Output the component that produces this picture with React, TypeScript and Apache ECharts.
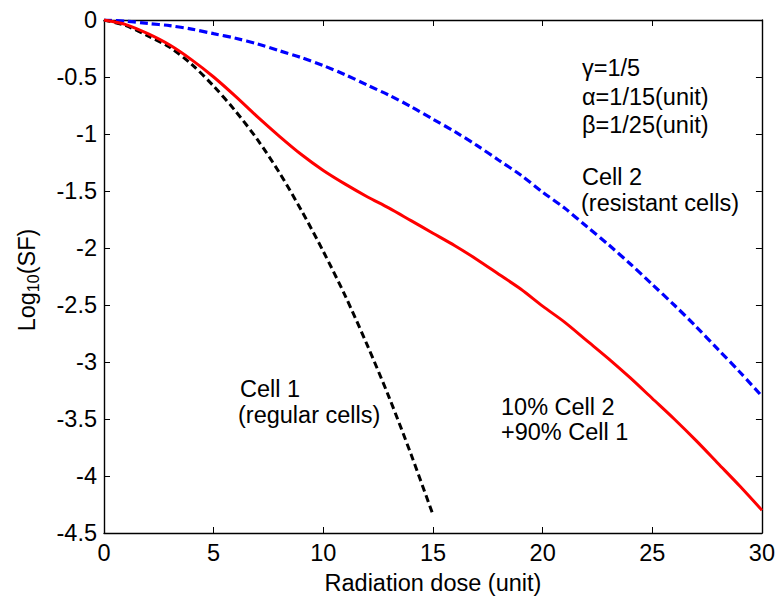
import React, { useEffect, useRef } from "react";
import * as echarts from "echarts";

// Radiation dose (unit)
const doses: number[] = [0, 1, 2, 3, 4, 5, 6, 7, 8, 9, 10, 11, 12, 13, 14, 15, 16, 17, 18, 19, 20, 21, 22, 23, 24, 25, 26, 27, 28, 29, 30];
const cell1Doses: number[] = [0, 1, 2, 3, 4, 5, 6, 7, 8, 9, 10, 11, 12, 13, 14, 15];

// Log10(SF)
const cell1Values: number[] = [0, -0.05, -0.14, -0.24, -0.39, -0.58, -0.8, -1.05, -1.34, -1.67, -2.03, -2.42, -2.85, -3.31, -3.81, -4.34];
const cell2Values: number[] = [0, -0.01, -0.03, -0.05, -0.08, -0.12, -0.16, -0.21, -0.27, -0.33, -0.4, -0.48, -0.57, -0.66, -0.76, -0.87, -0.98, -1.1, -1.23, -1.36, -1.51, -1.65, -1.81, -1.97, -2.14, -2.32, -2.5, -2.69, -2.89, -3.09, -3.3];
const mixValues: number[] = [0, -0.04, -0.12, -0.22, -0.35, -0.5, -0.67, -0.85, -1.02, -1.18, -1.32, -1.44, -1.55, -1.65, -1.76, -1.87, -1.98, -2.1, -2.23, -2.36, -2.51, -2.65, -2.81, -2.97, -3.14, -3.32, -3.5, -3.69, -3.89, -4.09, -4.3];

const paramLines: string[] = ["γ=1/5", "α=1/15(unit)", "β=1/25(unit)"];
const cell2Lines: string[] = ["Cell 2", "(resistant cells)"];
const cell1Lines: string[] = ["Cell 1", "(regular cells)"];
const mixLines: string[] = ["10% Cell 2", "+90% Cell 1"];

const FONT = "'Liberation Sans', Arial, Helvetica, sans-serif";
const FS = 23.5;

function textEl(str: string, x: number, y: number) {
  return {
    type: "text",
    x,
    y,
    style: {
      text: str,
      fontSize: FS,
      fontFamily: FONT,
      fill: "#000",
      align: "left",
      verticalAlign: "middle",
    },
  };
}

export default function App() {
  const ref = useRef<HTMLDivElement>(null);
  useEffect(() => {
    if (!ref.current) return;
    const chart = echarts.init(ref.current, null, { renderer: "svg" });
    const pair = (xs: number[], ys: number[]) => ys.map((v, i) => [xs[i], v]);
    const axisCommon = {
      axisLine: { show: true, onZero: false, lineStyle: { color: "#000", width: 1.4 } },
      axisTick: { show: true, inside: true, length: 6, lineStyle: { color: "#000", width: 1 } },
      splitLine: { show: false },
    };
    chart.setOption({
      animation: false,
      backgroundColor: "#fff",
      grid: { left: 104, right: 16, top: 20, bottom: 61, containLabel: false },
      xAxis: [
        {
          type: "value",
          min: 0,
          max: 30,
          interval: 5,
          position: "bottom",
          name: "Radiation dose (unit)",
          nameLocation: "middle",
          nameGap: 38,
          nameTextStyle: { fontSize: FS, fontFamily: FONT, color: "#000" },
          axisLabel: { fontSize: FS, fontFamily: FONT, color: "#000", margin: 8 },
          ...axisCommon,
        },
        {
          type: "value",
          min: 0,
          max: 30,
          interval: 5,
          position: "top",
          axisLabel: { show: false },
          ...axisCommon,
        },
      ],
      yAxis: [
        {
          type: "value",
          min: -4.5,
          max: 0,
          interval: 0.5,
          position: "left",
          axisLabel: { fontSize: FS, fontFamily: FONT, color: "#000", margin: 7 },
          ...axisCommon,
        },
        {
          type: "value",
          min: -4.5,
          max: 0,
          interval: 0.5,
          position: "right",
          axisLabel: { show: false },
          ...axisCommon,
        },
      ],
      series: [
        {
          type: "line",
          data: pair(doses, cell2Values),
          smooth: 0.3,
          showSymbol: false,
          lineStyle: { color: "#0000ff", width: 3.2, type: [8, 4] },
        },
        {
          type: "line",
          data: pair(cell1Doses, cell1Values),
          smooth: 0.3,
          showSymbol: false,
          lineStyle: { color: "#000000", width: 3, type: [7, 4] },
        },
        {
          type: "line",
          data: pair(doses, mixValues),
          smooth: 0.3,
          showSymbol: false,
          lineStyle: { color: "#ff0000", width: 3, type: "solid" },
        },
      ],
      graphic: [
        textEl(paramLines[0], 582, 68),
        textEl(paramLines[1], 582, 97),
        textEl(paramLines[2], 582, 125),
        textEl(cell2Lines[0], 582, 177),
        textEl(cell2Lines[1], 581, 203),
        textEl(cell1Lines[0], 240, 389),
        textEl(cell1Lines[1], 238, 415),
        textEl(mixLines[0], 501, 407),
        textEl(mixLines[1], 501, 432),
        {
          type: "text",
          x: 27,
          y: 280,
          rotation: Math.PI / 2,
          style: {
            text: "Log{sub|10}(SF)",
            fontSize: FS,
            fontFamily: FONT,
            fill: "#000",
            align: "center",
            verticalAlign: "middle",
            rich: {
              sub: { fontSize: 16, fontFamily: FONT, fill: "#000", padding: [12, 0, 0, 0], verticalAlign: "bottom" },
            },
          },
        },
      ],
    });
    return () => chart.dispose();
  }, []);
  return <div ref={ref} style={{ position: "fixed", left: 0, top: 0, width: 778, height: 600 }} />;
}
